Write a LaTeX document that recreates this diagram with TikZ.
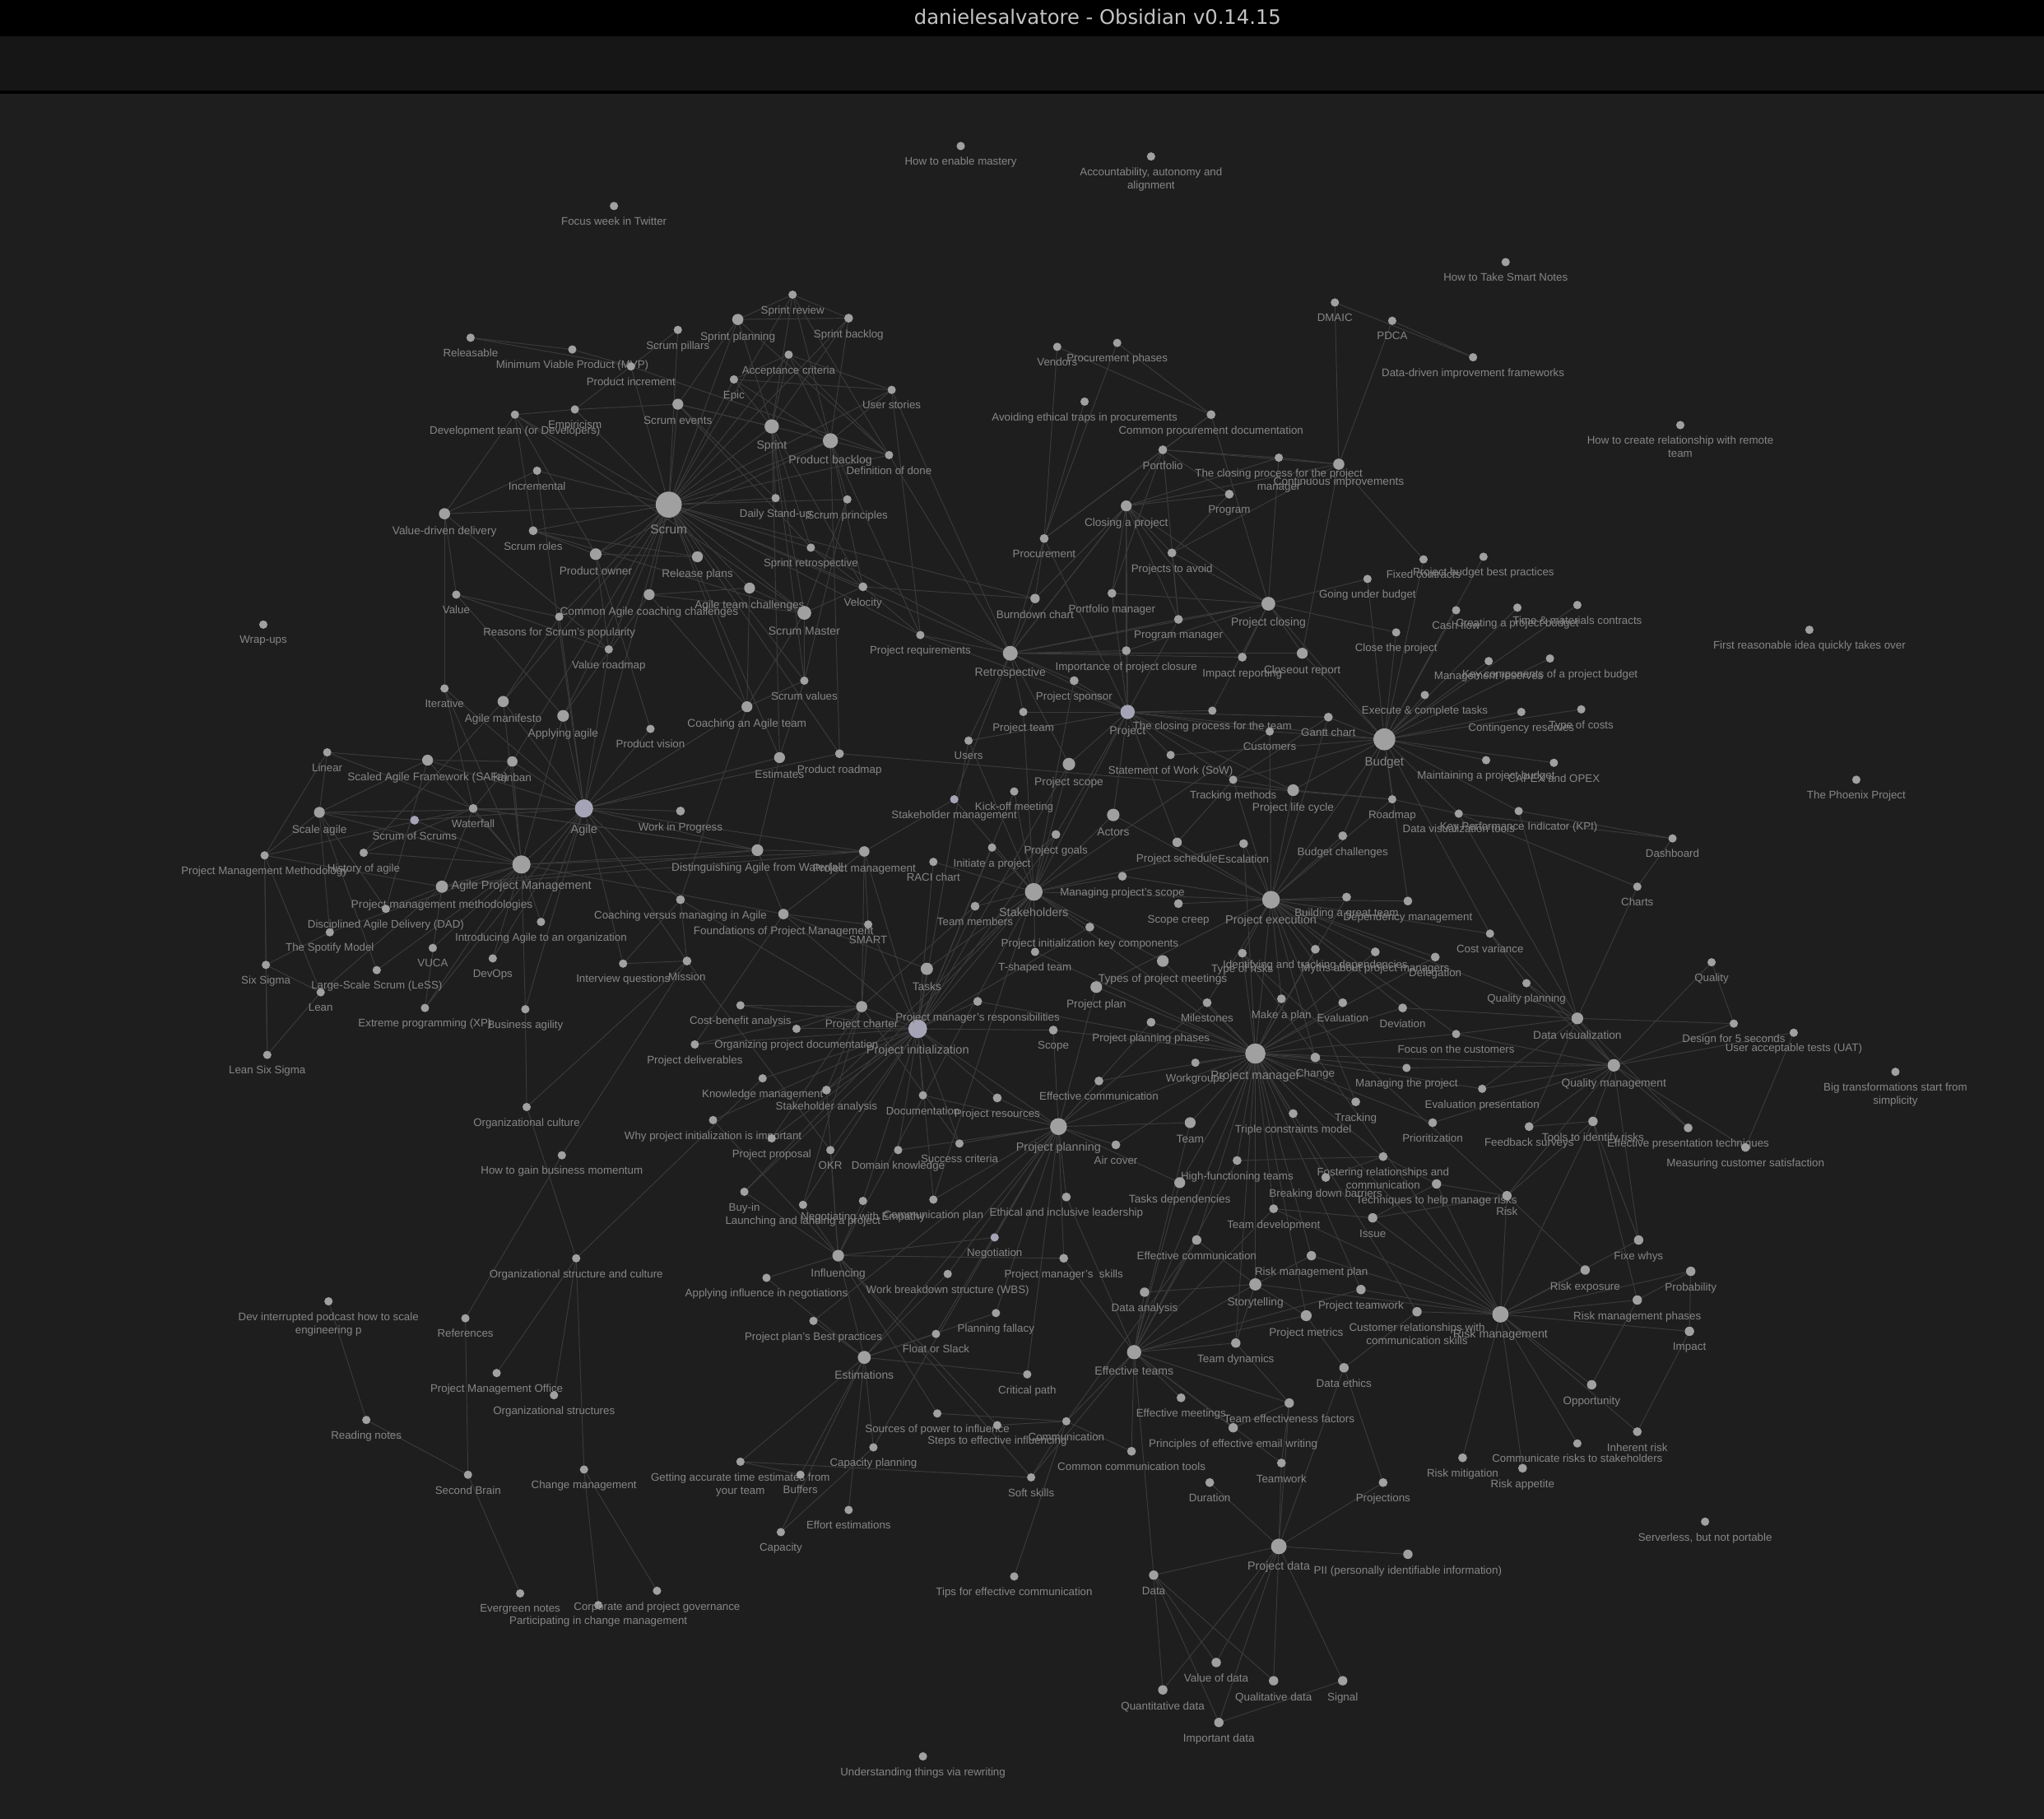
\documentclass[tikz,border=0pt]{standalone}
\usepackage{fontspec}
\setmainfont{Liberation Sans}
\newfontfamily\titlefont{DejaVu Sans}
\definecolor{bgc}{HTML}{1E1E1E}
\definecolor{barc}{HTML}{161616}
\definecolor{dotc}{HTML}{A0A0A0}
\definecolor{dotb}{HTML}{A4A4B6}
\definecolor{lblc}{HTML}{868686}
\definecolor{edgec}{HTML}{3B3B3B}
\definecolor{titlec}{HTML}{C4C4C4}
\pgfdeclarelayer{bglayer}
\pgfdeclarelayer{edgelayer}
\pgfsetlayers{bglayer,edgelayer,main}
\tikzset{
  dot/.style={circle,fill=dotc,draw=none,inner sep=0pt},
  lbl/.style={text=lblc,inner sep=0pt,anchor=north,align=center},
  edge/.style={draw=edgec,line width=0.6pt}
}
\newcommand\GN[6][]{%
  \node[dot,minimum size={2*#5},#1] (#2) at (#3,#4) {};
  \pgfmathsetmacro\fsz{8.4+0.2*(#5-3.2)}%
  \pgfmathsetmacro\fsb{\fsz*1.2}%
  \node[lbl,font=\fontsize{\fsz}{\fsb}\selectfont] (#2l) at ({#3},{#4+#5+5.2}) {#6};}
\newcommand\GE[2]{\foreach \tgt in {#2}{\draw[edge] (#1) -- (\tgt);}}
\begin{document}
\begin{tikzpicture}[x=1pt,y=-1pt]
\useasboundingbox (0,0) rectangle (1568,1395);
\begin{pgfonlayer}{bglayer}
\fill[bgc] (0,0) rectangle (1568,1395);
\fill[black] (0,0) rectangle (1568,28);
\fill[barc] (0,28) rectangle (1568,69.5);
\fill[black] (0,69.5) rectangle (1568,72);
\end{pgfonlayer}
\node[text=titlec,font=\titlefont\fontsize{15.3}{17}\selectfont,inner sep=0pt] (title) at (842,13) {danielesalvatore - Obsidian v0.14.15};
% isolated
\GN{mastery}{737}{112}{3.2}{How to enable mastery}
\GN{accaut}{883}{120}{3.2}{Accountability, autonomy and\\alignment}
\GN{focusweek}{471}{158}{3.2}{Focus week in Twitter}
\GN{smartnotes}{1155}{201}{3.2}{How to Take Smart Notes}
\GN{remote}{1289}{326}{3.2}{How to create relationship with remote\\team}
\GN{dmaic}{1024}{232}{3.2}{DMAIC}
\GN{pdca}{1068}{246}{3.2}{PDCA}
\GN{ddif}{1130}{274}{3.2}{Data-driven improvement frameworks}
\GN{wrapups}{202}{479}{3.2}{Wrap-ups}
\GN{firstidea}{1388}{483}{3.2}{First reasonable idea quickly takes over}
\GN{phoenix}{1424}{598}{3.2}{The Phoenix Project}
\GN{bigtrans}{1454}{822}{3.2}{Big transformations start from\\simplicity}
\GN{serverless}{1308}{1167}{3.2}{Serverless, but not portable}
\GN{rewriting}{708}{1347}{3.2}{Understanding things via rewriting}
\GN{devint}{252}{998}{3.2}{Dev interrupted podcast how to scale\\engineering p}
\GN{reading}{281}{1089}{3.2}{Reading notes}
% scrum
\GN{sreview}{608}{226}{3.2}{Sprint review}
\GN{splanning}{566}{245}{4.3}{Sprint planning}
\GN{sbacklog}{651}{244}{3.4}{Sprint backlog}
\GN{spillars}{520}{253}{3.2}{Scrum pillars}
\GN{releasable}{361}{259}{3.2}{Releasable}
\GN{mvp}{439}{268}{3.2}{Minimum Viable Product (MVP)}
\GN{accept}{605}{272}{3.2}{Acceptance criteria}
\GN{pincrement}{484}{281}{3.2}{Product increment}
\GN{epic}{563}{291}{3.2}{Epic}
\GN{ustories}{684}{299}{3.2}{User stories}
\GN{devteam}{395}{318}{3.2}{Development team (or Developers)}
\GN{empiricism}{441}{314}{3.2}{Empiricism}
\GN{sevents}{520}{310}{4.2}{Scrum events}
\GN{sprint}{592}{327}{5.5}{Sprint}
\GN{pbacklog}{637}{338}{5.8}{Product backlog}
\GN{dod}{682}{349}{3.2}{Definition of done}
\GN{incremental}{412}{361}{3.2}{Incremental}
\GN{scrum}{513}{387}{10}{Scrum}
\GN{standup}{595}{382}{3.2}{Daily Stand-up}
\GN{sprinciples}{650}{383}{3.2}{Scrum principles}
\GN{vdd}{341}{394}{4.3}{Value-driven delivery}
\GN{sroles}{409}{407}{3.4}{Scrum roles}
\GN{sretro}{622}{420}{3.2}{Sprint retrospective}
\GN{powner}{457}{425}{4.5}{Product owner}
\GN{rplans}{535}{427}{4.2}{Release plans}
\GN{value}{350}{456}{3.2}{Value}
\GN{cacc}{498}{456}{4.2}{Common Agile coaching challenges}
\GN{atc}{575}{451}{4.2}{Agile team challenges}
\GN{velocity}{662}{450}{3.4}{Velocity}
\GN{smaster}{617}{470}{5.3}{Scrum Master}
\GN{reasons}{429}{473}{3.2}{Reasons for Scrum's popularity}
\GN{vroadmap}{467}{498}{3.2}{Value roadmap}
\GN{svalues}{617}{522}{3.2}{Scrum values}
\GN{coaching}{573}{542}{4.2}{Coaching an Agile team}
% agile
\GN{iterative}{341}{528}{3.2}{Iterative}
\GN{amanifesto}{386}{538}{4.3}{Agile manifesto}
\GN{applying}{432}{549}{4.5}{Applying agile}
\GN{pvision}{499}{559}{3.2}{Product vision}
\GN{linear}{251}{577}{3.2}{Linear}
\GN{safe}{328}{583}{4.2}{Scaled Agile Framework (SAFe)}
\GN{kanban}{393}{584}{4}{Kanban}
\GN{estimates}{598}{581}{4.2}{Estimates}
\GN{proadmap}{644}{578}{3.4}{Product roadmap}
\GN{scaleagile}{245}{623}{4.2}{Scale agile}
\GN{waterfall}{363}{620}{3.4}{Waterfall}
\GN[fill=dotb]{sos}{318}{629}{3.4}{Scrum of Scrums}
\GN[fill=dotb]{agile}{448}{620}{7}{Agile}
\GN{wip}{522}{622}{3.4}{Work in Progress}
\GN{history}{279}{654}{3.2}{History of agile}
\GN{pmmethod}{203}{656}{3.2}{Project Management Methodology}
\GN{apm}{400}{663}{7}{Agile Project Management}
\GN{disting}{581}{652}{4.5}{Distinguishing Agile from Waterfall}
\GN{pmgmt}{663}{653}{4}{Project management}
\GN{pmmethods}{339}{680}{4.7}{Project management methodologies}
\GN{dad}{296}{697}{3.2}{Disciplined Agile Delivery (DAD)}
\GN{spotify}{253}{715}{3.2}{The Spotify Model}
\GN{introagile}{415}{707}{3.2}{Introducing Agile to an organization}
\GN{vuca}{332}{727}{3.2}{VUCA}
\GN{devops}{378}{735}{3.2}{DevOps}
\GN{sixsigma}{204}{740}{3.2}{Six Sigma}
\GN{less}{289}{744}{3.2}{Large-Scale Scrum (LeSS)}
\GN{lean}{246}{761}{3.2}{Lean}
\GN{xp}{326}{773}{3.2}{Extreme programming (XP)}
\GN{bagility}{403}{774}{3.2}{Business agility}
\GN{lss}{205}{809}{3.2}{Lean Six Sigma}
\GN{cvm}{522}{690}{3.4}{Coaching versus managing in Agile}
\GN{foundations}{601}{701}{4}{Foundations of Project Management}
\GN{smart}{666}{709}{3.2}{SMART}
\GN{interview}{478}{739}{3.2}{Interview questions}
\GN{mission}{527}{737}{3.4}{Mission}
% left lower
\GN{orgculture}{404}{849}{3.2}{Organizational culture}
\GN{momentum}{431}{886}{3.2}{How to gain business momentum}
\GN{orgsc}{442}{965}{3.2}{Organizational structure and culture}
\GN{references}{357}{1011}{3.2}{References}
\GN{pmo}{381}{1053}{3.2}{Project Management Office}
\GN{orgstruct}{425}{1070}{3.2}{Organizational structures}
\GN{secondbrain}{359}{1131}{3.2}{Second Brain}
\GN{changemgmt}{448}{1127}{3.2}{Change management}
\GN{evergreen}{399}{1222}{3.2}{Evergreen notes}
\GN{partchange}{459}{1231}{3.2}{Participating in change management}
\GN{governance}{504}{1220}{3.2}{Corporate and project governance}
% project initialization
\GN{costbenefit}{568}{771}{3.2}{Cost-benefit analysis}
\GN{pcharter}{661}{772}{4.3}{Project charter}
\GN{orgdocs}{611}{789}{3.2}{Organizing project documentation}
\GN[fill=dotb]{pinit}{704}{789}{7.2}{Project initialization}
\GN{pdeliver}{533}{801}{3.2}{Project deliverables}
\GN{knowledge}{585}{827}{3.2}{Knowledge management}
\GN{stkanalysis}{634}{836}{3.4}{Stakeholder analysis}
\GN{documentation}{708}{840}{3.2}{Documentation}
\GN{whypi}{547}{859}{3.2}{Why project initialization is important}
\GN{pproposal}{592}{873}{3.2}{Project proposal}
\GN{okr}{637}{882}{3.2}{OKR}
\GN{domain}{689}{882}{3.2}{Domain knowledge}
\GN{success}{736}{877}{3.2}{Success criteria}
\GN{buyin}{571}{914}{3.2}{Buy-in}
\GN{launching}{616}{924}{3.2}{Launching and landing a project}
\GN{negempathy}{662}{921}{3.2}{Negotiating with Empathy}
\GN{commplan}{716}{920}{3.2}{Communication plan}
\GN[fill=dotb]{negotiation}{763}{949}{3.2}{Negotiation}
\GN{influencing}{643}{963}{4.5}{Influencing}
\GN{applyinf}{588}{980}{3.2}{Applying influence in negotiations}
\GN{wbs}{727}{977}{3.2}{Work breakdown structure (WBS)}
\GN{planfallacy}{764}{1007}{3.2}{Planning fallacy}
\GN{bestpract}{624}{1013}{3.2}{Project plan's Best practices}
\GN{float}{718}{1023}{3.2}{Float or Slack}
\GN{estimations}{663}{1041}{5}{Estimations}
\GN{critpath}{788}{1054}{3.2}{Critical path}
\GN{sources}{719}{1084}{3.2}{Sources of power to influence}
\GN{steps}{765}{1093}{3.2}{Steps to effective influencing}
\GN{communication}{818}{1090}{3.2}{Communication}
\GN{capplanning}{670}{1110}{3.2}{Capacity planning}
\GN{getting}{568}{1121}{3.2}{Getting accurate time estimates from\\your team}
\GN{buffers}{614}{1131}{3.2}{Buffers}
\GN{softskills}{791}{1133}{3.2}{Soft skills}
\GN{effort}{651}{1158}{3.2}{Effort estimations}
\GN{capacity}{599}{1175}{3.2}{Capacity}
\GN{tips}{778}{1209}{3.2}{Tips for effective communication}
% project / procurement / closing
\GN{preq}{706}{487}{3.2}{Project requirements}
\GN{retro}{775}{501}{5.7}{Retrospective}
\GN{burndown}{794}{459}{3.6}{Burndown chart}
\GN{procurement}{801}{413}{3.4}{Procurement}
\GN{vendors}{811}{266}{3.2}{Vendors}
\GN{procphases}{857}{263}{3.2}{Procurement phases}
\GN{ethical}{832}{308}{3.2}{Avoiding ethical traps in procurements}
\GN{procdocs}{929}{318}{3.4}{Common procurement documentation}
\GN{portfolio}{892}{345}{3.4}{Portfolio}
\GN{closingpm}{981}{351}{3.2}{The closing process for the project\\manager}
\GN{contimpr}{1027}{356}{4.3}{Continuous improvements}
\GN{program}{943}{379}{3.4}{Program}
\GN{closingproj}{864}{388}{4.2}{Closing a project}
\GN{toavoid}{899}{424}{3.4}{Projects to avoid}
\GN{portmgr}{853}{455}{3.4}{Portfolio manager}
\GN{progmgr}{904}{475}{3.4}{Program manager}
\GN{pclosing}{973}{463}{5.3}{Project closing}
\GN{importance}{864}{499}{3.4}{Importance of project closure}
\GN{impact}{953}{504}{3.4}{Impact reporting}
\GN{closeout}{999}{501}{4.2}{Closeout report}
\GN{sponsor}{824}{522}{3.4}{Project sponsor}
\GN{pteam}{785}{546}{3.2}{Project team}
\GN[fill=dotb]{project}{865}{546}{5.5}{Project}
\GN{users}{743}{568}{3.2}{Users}
\GN{closingteam}{930}{545}{3.2}{The closing process for the team}
\GN{customers}{974}{561}{3.2}{Customers}
\GN{gantt}{1019}{550}{3.4}{Gantt chart}
\GN{sow}{898}{579}{3.2}{Statement of Work (SoW)}
\GN{pscope}{820}{586}{4.8}{Project scope}
\GN{tracking}{946}{598}{3.2}{Tracking methods}
\GN{plifecycle}{992}{606}{4.5}{Project life cycle}
\GN{kickoff}{778}{607}{3.2}{Kick-off meeting}
\GN[fill=dotb]{stkmgmt}{732}{613}{3.2}{Stakeholder management}
\GN{actors}{854}{625}{4.8}{Actors}
\GN{pgoals}{810}{640}{3.4}{Project goals}
\GN{initiate}{761}{650}{3.2}{Initiate a project}
\GN{raci}{716}{661}{3.2}{RACI chart}
\GN{pschedule}{903}{646}{3.6}{Project schedule}
\GN{escalation}{954}{647}{3.4}{Escalation}
\GN{bchallenges}{1030}{641}{3.4}{Budget challenges}
\GN{stakeholders}{793}{684}{6.8}{Stakeholders}
\GN{mscope}{861}{672}{3.4}{Managing project's scope}
\GN{tmembers}{748}{695}{3.4}{Team members}
\GN{screep}{904}{693}{3.4}{Scope creep}
\GN{pexec}{975}{690}{6.8}{Project execution}
\GN{greatteam}{1033}{688}{3.4}{Building a great team}
\GN{depmgmt}{1080}{691}{3.4}{Dependency management}
\GN{pikey}{836}{711}{3.4}{Project initialization key components}
\GN{tshaped}{794}{730}{3.2}{T-shaped team}
\GN{tasks}{711}{743}{4.7}{Tasks}
\GN{pmeetings}{892}{737}{4.5}{Types of project meetings}
\GN{typerisks}{953}{731}{3.4}{Type of risks}
\GN{identdeps}{1009}{728}{3.4}{Identifying and tracking dependencies}
\GN{myths}{1055}{730}{3.4}{Myths about project managers}
\GN{delegation}{1101}{734}{3.4}{Delegation}
\GN{pplan}{841}{757}{4.5}{Project plan}
\GN{pmresp}{750}{768}{3.4}{Project manager's responsibilities}
\GN{scope}{808}{790}{3.4}{Scope}
\GN{ppphases}{883}{784}{3.4}{Project planning phases}
\GN{milestones}{926}{769}{3.4}{Milestones}
\GN{makeplan}{983}{766}{3.4}{Make a plan}
\GN{evaluation}{1030}{769}{3.4}{Evaluation}
\GN{deviation}{1076}{773}{3.4}{Deviation}
% budget
\GN{fixed}{1092}{429}{3.2}{Fixed contracts}
\GN{bbest}{1138}{427}{3.2}{Project budget best practices}
\GN{underbudget}{1049}{444}{3.2}{Going under budget}
\GN{cashflow}{1117}{468}{3.2}{Cash flow}
\GN{createbudget}{1164}{466}{3.2}{Creating a project budget}
\GN{timemat}{1210}{464}{3.2}{Time \& materials contracts}
\GN{closeproj}{1071}{485}{3.2}{Close the project}
\GN{mreserves}{1142}{507}{3.2}{Management reserves}
\GN{keycomp}{1189}{505}{3.2}{Key components of a project budget}
\GN{execute}{1093}{533}{3.2}{Execute \& complete tasks}
\GN{contingency}{1167}{546}{3.2}{Contingency reserves}
\GN{typecosts}{1213}{544}{3.2}{Type of costs}
\GN{budget}{1062}{567}{8.4}{Budget}
\GN{maintain}{1140}{583}{3.2}{Maintaining a project budget}
\GN{capex}{1192}{585}{3.2}{CAPEX and OPEX}
\GN{roadmap}{1068}{613}{3.2}{Roadmap}
\GN{dvtools}{1119}{624}{3.2}{Data visualization tools}
\GN{kpi}{1165}{622}{3.2}{Key Performance Indicator (KPI)}
\GN{dashboard}{1283}{643}{3.2}{Dashboard}
\GN{charts}{1256}{680}{3.2}{Charts}
\GN{costvar}{1143}{716}{3.2}{Cost variance}
\GN{qplanning}{1171}{754}{3.2}{Quality planning}
\GN{quality}{1313}{738}{3.2}{Quality}
\GN{dataviz}{1210}{781}{4.5}{Data visualization}
\GN{design5}{1330}{785}{3.2}{Design for 5 seconds}
\GN{uat}{1376}{792}{3.2}{User acceptable tests (UAT)}
\GN{qmgmt}{1238}{817}{4.8}{Quality management}
% project manager area
\GN{focuscust}{1117}{793}{3.2}{Focus on the customers}
\GN{pm}{963}{808}{7.8}{Project manager}
\GN{workgroups}{917}{815}{3.2}{Workgroups}
\GN{change}{1009}{811}{3.6}{Change}
\GN{managing}{1079}{819}{3.2}{Managing the project}
\GN{evalpres}{1137}{835}{3.2}{Evaluation presentation}
\GN{effcomm1}{843}{829}{3.4}{Effective communication}
\GN{presources}{765}{842}{3.4}{Project resources}
\GN{ptracking}{1040}{845}{3.4}{Tracking}
\GN{triple}{992}{854}{3.4}{Triple constraints model}
\GN{team}{913}{861}{4.2}{Team}
\GN{prioritization}{1099}{861}{3.4}{Prioritization}
\GN{feedback}{1173}{864}{3.4}{Feedback surveys}
\GN{toolsrisk}{1222}{860}{3.6}{Tools to identify risks}
\GN{presentation}{1295}{865}{3.4}{Effective presentation techniques}
\GN{measuring}{1339}{880}{3.4}{Measuring customer satisfaction}
\GN{pplanning}{812}{864}{6.5}{Project planning}
\GN{aircover}{856}{878}{3.4}{Air cover}
\GN{highfunc}{949}{890}{3.4}{High-functioning teams}
\GN{fostering}{1061}{887}{3.4}{Fostering relationships and\\communication}
\GN{barriers}{1017}{903}{3.4}{Breaking down barriers}
\GN{tasksdep}{905}{907}{4.2}{Tasks dependencies}
\GN{techniques}{1102}{908}{3.6}{Techniques to help manage risks}
\GN{risk}{1156}{917}{3.6}{Risk}
\GN{ethical2}{818}{918}{3.4}{Ethical and inclusive leadership}
\GN{teamdev}{977}{927}{3.4}{Team development}
\GN{issue}{1053}{934}{3.6}{Issue}
\GN{effcomm2}{918}{951}{3.6}{Effective communication}
\GN{fivewhys}{1257}{951}{3.6}{Fixe whys}
\GN{riskplan}{1006}{963}{3.6}{Risk management plan}
\GN{pmskills}{816}{965}{3.4}{Project manager's\ \ skills}
\GN{riskexp}{1216}{974}{3.6}{Risk exposure}
\GN{probability}{1297}{975}{3.6}{Probability}
\GN{storytelling}{963}{985}{4.7}{Storytelling}
\GN{teamwork2}{1044}{989}{3.6}{Project teamwork}
\GN{dataanalysis}{878}{991}{3.6}{Data analysis}
\GN{riskphases}{1256}{997}{3.6}{Risk management phases}
\GN{custrel}{1087}{1006}{3.6}{Customer relationships with\\communication skills}
\GN{riskmgmt}{1151}{1008}{6.3}{Risk management}
\GN{pmetrics}{1002}{1009}{4.2}{Project metrics}
\GN{impact2}{1296}{1021}{3.6}{Impact}
\GN{teamdyn}{948}{1030}{3.6}{Team dynamics}
\GN{effteams}{870}{1037}{5.5}{Effective teams}
\GN{dataethics}{1031}{1049}{3.6}{Data ethics}
\GN{opportunity}{1221}{1062}{3.6}{Opportunity}
\GN{effmeetings}{906}{1072}{3.4}{Effective meetings}
\GN{teameff}{989}{1076}{3.6}{Team effectiveness factors}
\GN{email}{946}{1095}{3.6}{Principles of effective email writing}
\GN{inherent}{1256}{1098}{3.4}{Inherent risk}
\GN{commtools}{868}{1113}{3.4}{Common communication tools}
\GN{riskmit}{1122}{1118}{3.4}{Risk mitigation}
\GN{teamwork}{983}{1122}{3.4}{Teamwork}
\GN{riskapp}{1168}{1126}{3.4}{Risk appetite}
\GN{commrisks}{1210}{1107}{3.2}{Communicate risks to stakeholders}
\GN{duration}{928}{1137}{3.4}{Duration}
\GN{projections}{1061}{1137}{3.4}{Projections}
\GN{pdata}{981}{1186}{6}{Project data}
\GN{pii}{1080}{1192}{3.6}{PII (personally identifiable information)}
\GN{data}{885}{1208}{3.6}{Data}
\GN{valuedata}{933}{1275}{3.6}{Value of data}
\GN{qualdata}{977}{1289}{3.6}{Qualitative data}
\GN{signal}{1030}{1289}{3.6}{Signal}
\GN{quantdata}{892}{1296}{3.6}{Quantitative data}
\GN{impdata}{935}{1321}{3.6}{Important data}
% ---------- edges ----------
\begin{pgfonlayer}{edgelayer}
\GE{scrum}{sreview,splanning,sbacklog,spillars,accept,pincrement,epic,ustories,devteam,empiricism,sevents,sprint,pbacklog,dod,incremental,standup,sprinciples,vdd,sroles,sretro,powner,rplans,cacc,atc,velocity,smaster,reasons,vroadmap,svalues,coaching,agile,applying,estimates,proadmap,burndown,retro,preq,kanban,amanifesto}
\GE{sprint}{splanning,sreview,sbacklog,pbacklog,standup,sretro,sevents,accept,epic,smaster,velocity,estimates,svalues}
\GE{pbacklog}{sreview,sbacklog,ustories,accept,dod,epic,sprinciples,powner,preq,velocity,proadmap}
\GE{splanning}{sreview,sbacklog,sevents,dod}
\GE{sreview}{sbacklog,dod}
\GE{releasable}{mvp,pincrement}
\GE{mvp}{pincrement}
\GE{pincrement}{spillars,empiricism,dod}
\GE{devteam}{empiricism,vdd,sroles,powner,smaster}
\GE{empiricism}{sevents}
\GE{sevents}{sprint,standup,sretro}
\GE{epic}{ustories,accept}
\GE{accept}{ustories,dod}
\GE{vdd}{value,incremental,vroadmap,iterative}
\GE{sroles}{powner,smaster,rplans}
\GE{powner}{rplans,vroadmap,pvision}
\GE{value}{vroadmap,applying}
\GE{smaster}{svalues,coaching,atc,sprinciples,velocity,cacc}
\GE{atc}{coaching,cacc}
\GE{velocity}{burndown,sretro,preq}
\GE{svalues}{sprinciples,coaching,estimates}
\GE{ustories}{preq,retro}
\GE{dod}{retro}
\GE{reasons}{value,amanifesto}
\GE{cacc}{coaching,applying}
\GE{agile}{iterative,amanifesto,applying,pvision,safe,kanban,scaleagile,waterfall,sos,wip,apm,disting,cvm,mission,devops,introagile,xp,bagility,vroadmap,coaching,estimates,pmgmt,reasons,incremental,proadmap,interview}
\GE{apm}{amanifesto,kanban,waterfall,pmmethods,history,sos,introagile,vuca,devops,xp,disting,foundations,iterative,applying,bagility,less,scaleagile,pmgmt,safe,spotify}
\GE{scaleagile}{safe,sos,less,dad,spotify,pmmethod,linear}
\GE{pmmethod}{sixsigma,lss,lean,waterfall,linear,pmmethods}
\GE{sixsigma}{lss,spotify}
\GE{lean}{lss,pmmethods,sixsigma}
\GE{history}{amanifesto,waterfall}
\GE{waterfall}{iterative,linear,disting,kanban}
\GE{safe}{kanban,linear,dad}
\GE{pmmethods}{waterfall,disting,xp,dad,pmgmt}
\GE{disting}{pmgmt,waterfall,foundations,estimates}
\GE{pmgmt}{foundations,pinit,pcharter,stkmgmt,smart}
\GE{foundations}{smart,tasks,pinit,pdeliver}
\GE{cvm}{coaching,interview,mission,pcharter}
\GE{mission}{okr,interview}
\GE{orgculture}{bagility,mission,orgsc}
\GE{momentum}{references,mission}
\GE{orgsc}{pmo,orgstruct,changemgmt,knowledge}
\GE{secondbrain}{references,reading,evergreen}
\GE{reading}{devint}
\GE{changemgmt}{partchange,governance}
\GE{pinit}{pcharter,costbenefit,orgdocs,pdeliver,knowledge,stkanalysis,documentation,whypi,pproposal,okr,domain,success,buyin,launching,negempathy,commplan,stakeholders,tasks,smart,pikey,raci,initiate,kickoff,pscope,pgoals,presources,scope,pmresp,pplanning,users,tmembers}
\GE{pcharter}{costbenefit,orgdocs,pdeliver,stkanalysis,pproposal,launching,smart,pgoals,success}
\GE{stakeholders}{stkmgmt,users,pteam,sponsor,customers,actors,pgoals,initiate,raci,tmembers,pikey,tshaped,tasks,pmeetings,kickoff,stkanalysis,buyin,influencing,pscope,mscope,project,pm,escalation,commplan}
\GE{project}{sponsor,pteam,users,closingteam,customers,gantt,sow,pscope,actors,tracking,plifecycle,portmgr,progmgr,importance,retro,preq,procurement,closingproj,pgoals,pschedule,budget}
\GE{pexec}{budget,plifecycle,roadmap,escalation,bchallenges,greatteam,depmgmt,screep,pschedule,tracking,typerisks,identdeps,myths,delegation,makeplan,evaluation,pplan,milestones,mscope,gantt,pm,change,ptracking,deviation,costvar,dataviz,focuscust,actors,stakeholders,customers}
\GE{budget}{fixed,bbest,underbudget,cashflow,createbudget,timemat,closeproj,mreserves,keycomp,execute,contingency,typecosts,maintain,capex,roadmap,dvtools,kpi,bchallenges,gantt,customers,plifecycle,depmgmt,costvar,pclosing,closeout,tracking,sow}
\GE{pclosing}{closingproj,closeout,impact,importance,closeproj,closingteam,closingpm,progmgr,toavoid,retro,underbudget,portmgr,procdocs}
\GE{closingproj}{portfolio,program,toavoid,portmgr,progmgr,retro,closingpm,importance,impact,burndown}
\GE{procurement}{vendors,procphases,ethical,procdocs,portfolio,burndown,retro}
\GE{procphases}{procdocs}
\GE{vendors}{procdocs}
\GE{portfolio}{procdocs,contimpr,program,progmgr,portmgr,closingpm}
\GE{closingpm}{contimpr}
\GE{contimpr}{closeout,toavoid,pdca,dmaic,closingproj,fixed}
\GE{ddif}{dmaic,pdca}
\GE{retro}{preq,burndown,sponsor,pteam,users,importance,closeout,stkmgmt,closingproj,sretro,pscope,impact,progmgr}
\GE{toavoid}{progmgr,program}
\GE{tracking}{gantt,plifecycle,pschedule}
\GE{roadmap}{plifecycle,dvtools,proadmap}
\GE{dashboard}{kpi,dvtools,charts}
\GE{charts}{dataviz,dvtools}
\GE{dataviz}{dvtools,kpi,design5,presentation,qplanning,focuscust,deviation,evalpres,feedback,qmgmt}
\GE{qmgmt}{qplanning,quality,design5,uat,toolsrisk,presentation,measuring,feedback,evalpres,focuscust,managing,prioritization,risk,fivewhys,costvar}
\GE{uat}{measuring}
\GE{quality}{design5}
\GE{costvar}{qplanning}
\GE{pm}{workgroups,change,focuscust,managing,evalpres,ptracking,triple,team,prioritization,highfunc,fostering,barriers,teamdev,effcomm2,riskplan,storytelling,teamwork2,pmetrics,teamdyn,effteams,tasksdep,aircover,pplanning,milestones,makeplan,evaluation,deviation,pplan,ppphases,scope,pmeetings,typerisks,identdeps,myths,delegation,effcomm1,escalation,greatteam,riskmgmt,qmgmt,tshaped,pmresp,custrel}
\GE{pplanning}{presources,effcomm1,aircover,team,tasksdep,ethical2,pmskills,wbs,float,critpath,estimations,planfallacy,bestpract,success,milestones,pplan,ppphases,scope,documentation,negotiation,commplan,capplanning,domain}
\GE{estimations}{bestpract,float,planfallacy,critpath,capplanning,buffers,effort,capacity,getting,wbs,influencing,applyinf}
\GE{influencing}{applyinf,negotiation,sources,steps,buyin,negempathy,launching,okr,pmskills,softskills,stkanalysis,whypi}
\GE{effteams}{teamdyn,teameff,effmeetings,storytelling,dataanalysis,pmskills,effcomm2,teamdev,highfunc,team,communication,commtools,email,softskills,tasksdep,ethical2,teamwork,teamwork2,pmetrics,data}
\GE{communication}{steps,softskills,tips,commtools,effcomm2,sources}
\GE{getting}{softskills,buffers}
\GE{capacity}{capplanning}
\GE{pdata}{data,valuedata,qualdata,signal,impdata,quantdata,pii,projections,duration,teamwork,dataethics,teameff}
\GE{data}{quantdata,valuedata,qualdata,impdata}
\GE{signal}{impdata}
\GE{riskmgmt}{risk,riskexp,probability,riskphases,impact2,opportunity,inherent,riskmit,riskapp,commrisks,fivewhys,toolsrisk,techniques,issue,riskplan,typerisks,custrel,teamwork2,storytelling,teamdev}
\GE{risk}{toolsrisk,techniques,issue,riskexp,typerisks}
\GE{riskphases}{probability,opportunity}
\GE{impact2}{probability,inherent}
\GE{toolsrisk}{fivewhys,feedback,riskphases}
\GE{storytelling}{dataanalysis,riskplan,teamdyn,pmetrics,effcomm2}
\GE{dataethics}{projections,pmetrics,custrel}
\GE{teameff}{teamwork,email,teamdyn}
\GE{fostering}{highfunc,barriers,techniques}
\GE{issue}{techniques,teamdev}
\end{pgfonlayer}
\end{tikzpicture}
\end{document}
